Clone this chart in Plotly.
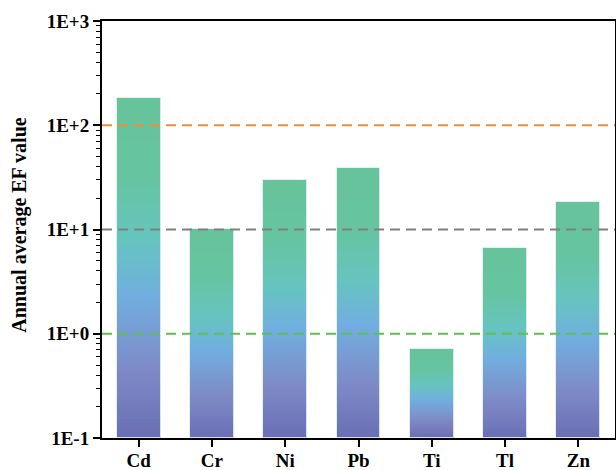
import numpy as np
import plotly.graph_objects as go

# Annual average enrichment factor per element
elements = ["Cd", "Cr", "Ni", "Pb", "Ti", "Tl", "Zn"]
ef_values = [181, 10.2, 30, 39, 0.72, 6.6, 18.5]

# Reference levels drawn as dashed lines
ref_levels = [100, 10, 1]
ref_colors = ["#F28C3E", "#808080", "#5DC24B"]

y_tickvals = [0.1, 1, 10, 100, 1000]
y_ticktext = ["1E-1", "1E+0", "1E+1", "1E+2", "1E+3"]

# Vertical gradient of each bar, bottom (0) to top (1)
grad_stops = [
    (0.00, (106, 110, 181)),
    (0.20, (126, 138, 198)),
    (0.42, (113, 174, 224)),
    (0.58, (102, 196, 192)),
    (0.76, (102, 196, 162)),
    (1.00, (102, 195, 154)),
]


def grad_color(f):
    for (f0, c0), (f1, c1) in zip(grad_stops[:-1], grad_stops[1:]):
        if f <= f1:
            t = (f - f0) / (f1 - f0) if f1 > f0 else 0
            c = [round(a + (b - a) * t) for a, b in zip(c0, c1)]
            return f"rgb({c[0]},{c[1]},{c[2]})"
    c = grad_stops[-1][1]
    return f"rgb({c[0]},{c[1]},{c[2]})"


FONT = "Liberation Serif"
y_floor = 0.1
n_steps = 90

fig = go.Figure()

# Overlaid bars from the axis floor: tallest (top colour) first, shorter ones on top
log_floor = np.log10(y_floor)
log_vals = np.log10(ef_values)
for k in range(n_steps, 0, -1):
    f = k / n_steps
    tops = 10 ** (log_floor + f * (log_vals - log_floor))
    fig.add_trace(go.Bar(
        x=elements, y=tops - y_floor, base=y_floor,
        marker=dict(color=grad_color(f - 0.5 / n_steps), line=dict(width=0)),
        width=0.6, showlegend=False, hoverinfo="skip",
    ))

# Thin light outline around each full bar
fig.add_trace(go.Bar(
    x=elements, y=np.array(ef_values) - y_floor, base=y_floor,
    marker=dict(color="rgba(0,0,0,0)", line=dict(width=1, color="rgba(225,240,240,0.9)")),
    width=0.6, showlegend=False, hovertemplate="%{x}: %{customdata}<extra></extra>",
    customdata=ef_values,
))

for lvl, col in zip(ref_levels, ref_colors):
    fig.add_shape(type="line", xref="paper", x0=0, x1=1, yref="y", y0=lvl, y1=lvl,
                  line=dict(color=col, width=2, dash="10px,6px"), layer="above")

# Y-axis title as a rotated annotation
fig.add_annotation(
    text="Annual average EF value", textangle=-90,
    xref="paper", yref="paper", x=-0.161, y=0.51,
    xanchor="center", yanchor="middle", showarrow=False,
    font=dict(family=FONT, size=20, color="black", weight="bold"),
)

fig.update_layout(
    width=616, height=470,
    margin=dict(l=102, r=1, t=21, b=32),
    paper_bgcolor="white", plot_bgcolor="white",
    barmode="overlay", bargap=0,
    font=dict(family=FONT, size=19, color="black", weight="bold"),
)
fig.update_xaxes(
    type="category", range=[-0.5, 6.5], automargin=False,
    showline=True, linecolor="black", linewidth=2, mirror=True,
    ticks="outside", ticklen=7, tickwidth=1.5, tickcolor="black",
    ticklabelstandoff=-3,
    tickfont=dict(family=FONT, size=19, weight="bold"),
    showgrid=False, zeroline=False,
)
fig.update_yaxes(
    type="log", range=[-1, 3], automargin=False,
    tickmode="array", tickvals=y_tickvals, ticktext=y_ticktext,
    showline=True, linecolor="black", linewidth=2, mirror=True,
    ticks="outside", ticklen=7, tickwidth=1.5, tickcolor="black",
    minor=dict(ticks="outside", ticklen=4, tickwidth=1.2, tickcolor="black", dtick="D1", showgrid=False),
    tickfont=dict(family=FONT, size=19, weight="bold"),
    showgrid=False, zeroline=False,
)

fig.write_html("out.html")
